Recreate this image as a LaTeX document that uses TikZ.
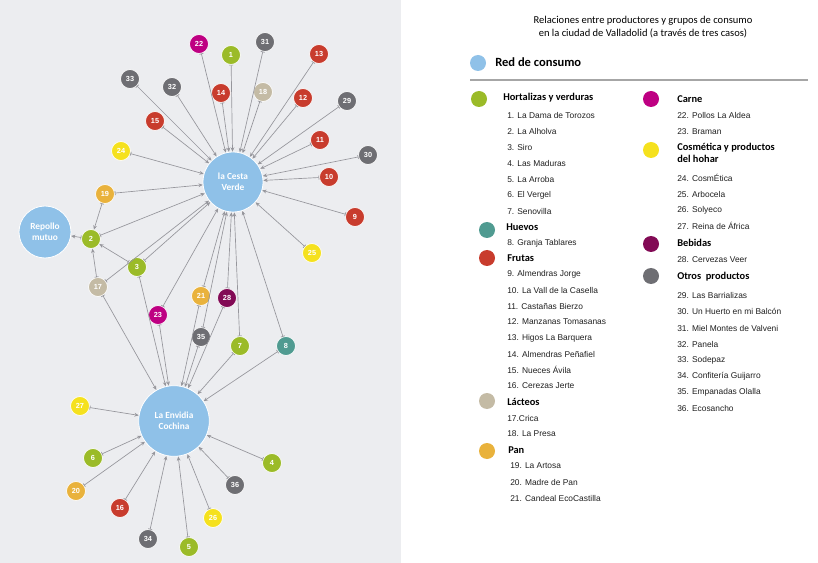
\documentclass[tikz,border=0pt]{standalone}
\usepackage{fontspec}
\setmainfont{Carlito}
\newfontfamily\listfont{Liberation Sans}
\usepackage{tikz}
\usetikzlibrary{arrows.meta}

\definecolor{panelgray}{RGB}{236,237,240}
\definecolor{linegray}{RGB}{150,150,156}
\definecolor{redblue}{RGB}{143,193,232}
\definecolor{horta}{RGB}{155,187,40}
\definecolor{huevo}{RGB}{80,155,145}
\definecolor{fruta}{RGB}{200,60,45}
\definecolor{lacteo}{RGB}{196,187,165}
\definecolor{pan}{RGB}{233,178,60}
\definecolor{carne}{RGB}{190,0,130}
\definecolor{cosme}{RGB}{245,225,30}
\definecolor{bebida}{RGB}{130,10,85}
\definecolor{otros}{RGB}{110,110,115}

\begin{document}
\begin{tikzpicture}[x=0.75pt,y=-0.75pt,
  consumo/.style={circle,fill=redblue,draw=white,line width=0.6pt,inner sep=0pt,text=white,align=center,font=\bfseries\fontsize{7}{8.5}\selectfont},
  prod/.style={circle,draw=white,line width=0.5pt,minimum size=14.2pt,inner sep=0pt,text=white,font=\listfont\bfseries\fontsize{5.5}{6}\selectfont},
  feed/.style={draw=linegray,line width=0.5pt,{Stealth[length=3.2pt,width=2.8pt]}-{Bar[width=3pt]}},
  dot/.style={circle,minimum size=12pt,inner sep=0pt},
  hdr/.style={anchor=west,inner xsep=0pt,font=\bfseries\fontsize{7.8}{8.8}\selectfont},
  itm/.style={anchor=west,inner xsep=0pt,text=black!88,font=\listfont\fontsize{6.3}{7.5}\selectfont}]
            \useasboundingbox (0,0) rectangle (818,563);
            \fill[panelgray] (0,0) rectangle (401,563);

            % grupos de consumo
            \node[consumo,minimum size=45pt] (cv) at (233,182) {la Cesta\\Verde};
            \node[consumo,minimum size=53pt] (ec) at (174,421) {La Envidia\\Cochina};
            \node[consumo,minimum size=39pt] (rm) at (45,232) {Repollo\\mutuo};

            % productores
            \node[prod,fill=horta] (p1) at (231,55) {1};
            \node[prod,fill=horta] (p2) at (91,239) {2};
            \node[prod,fill=horta] (p3) at (137,267) {3};
            \node[prod,fill=horta] (p4) at (272,463) {4};
            \node[prod,fill=horta] (p5) at (189,547) {5};
            \node[prod,fill=horta] (p6) at (93,458) {6};
            \node[prod,fill=horta] (p7) at (240,346) {7};
            \node[prod,fill=huevo] (p8) at (286,346) {8};
            \node[prod,fill=fruta] (p9) at (355,217) {9};
            \node[prod,fill=fruta] (p10) at (329,177) {10};
            \node[prod,fill=fruta] (p11) at (320,140) {11};
            \node[prod,fill=fruta] (p12) at (303,98) {12};
            \node[prod,fill=fruta] (p13) at (319,54) {13};
            \node[prod,fill=fruta] (p14) at (221,93) {14};
            \node[prod,fill=fruta] (p15) at (155,121) {15};
            \node[prod,fill=fruta] (p16) at (120,508) {16};
            \node[prod,fill=lacteo] (p17) at (98,287) {17};
            \node[prod,fill=lacteo] (p18) at (263,92) {18};
            \node[prod,fill=pan] (p19) at (105,194) {19};
            \node[prod,fill=pan] (p20) at (76,491) {20};
            \node[prod,fill=pan] (p21) at (201,296) {21};
            \node[prod,fill=carne] (p22) at (199,44) {22};
            \node[prod,fill=carne] (p23) at (158,315) {23};
            \node[prod,fill=cosme] (p24) at (121,151) {24};
            \node[prod,fill=cosme] (p25) at (312,253) {25};
            \node[prod,fill=cosme] (p26) at (213,518) {26};
            \node[prod,fill=cosme] (p27) at (80,406) {27};
            \node[prod,fill=bebida] (p28) at (227,298) {28};
            \node[prod,fill=otros] (p29) at (347,101) {29};
            \node[prod,fill=otros] (p30) at (368,155) {30};
            \node[prod,fill=otros] (p31) at (265,42) {31};
            \node[prod,fill=otros] (p32) at (172,87) {32};
            \node[prod,fill=otros] (p33) at (130,79) {33};
            \node[prod,fill=otros] (p34) at (148,539) {34};
            \node[prod,fill=otros] (p35) at (201,337) {35};
            \node[prod,fill=otros] (p36) at (235,485) {36};

            % relaciones
            \path (cv) edge[feed] (p1) edge[feed] (p2) edge[feed] (p3) edge[feed] (p7)
                       edge[feed] (p8) edge[feed] (p9) edge[feed] (p10) edge[feed] (p11)
                       edge[feed] (p12) edge[feed] (p13) edge[feed] (p14) edge[feed] (p15)
                       edge[feed] (p17) edge[feed] (p18) edge[feed] (p19) edge[feed] (p21)
                       edge[feed] (p22) edge[feed] (p23) edge[feed] (p24) edge[feed] (p25)
                       edge[feed] (p28) edge[feed] (p29) edge[feed] (p30) edge[feed] (p31)
                       edge[feed] (p32) edge[feed] (p33) edge[feed] (p35);
            \path (ec) edge[feed] (p3) edge[feed] (p4) edge[feed] (p5) edge[feed] (p6)
                       edge[feed] (p7) edge[feed] (p8) edge[feed] (p16) edge[feed] (p17)
                       edge[feed] (p20) edge[feed] (p21) edge[feed] (p23) edge[feed] (p26)
                       edge[feed] (p27) edge[feed] (p28) edge[feed] (p34) edge[feed] (p35)
                       edge[feed] (p36);
            \path (p2) edge[feed] (p3) edge[feed] (p17) edge[feed] (p19);
            \path (rm) edge[feed] (p2);

            % leyenda
            \node[font=\fontsize{7.9}{9.8}\selectfont,align=center] (tit) at (643,27) {Relaciones entre productores y grupos de consumo\\en la ciudad de Valladolid (a trav\'es de tres casos)};
            \node[dot,fill=redblue] (k0) at (478,63) {};
            \node[hdr,font=\bfseries\fontsize{9.4}{10}\selectfont] (h0) at (495,62) {Red de consumo};
            \draw[black!35,line width=0.8pt] (470,80) -- (808,80);

            \node[dot,fill=horta] (k1) at (479,99) {};
            \node[hdr] (h1) at (503,98) {Hortalizas y verduras};
            \node[itm] (l1) at (507,115) {1. La Dama de Torozos};
            \node[itm] (l2) at (507,131) {2. La Alholva};
            \node[itm] (l3) at (507,147) {3. Siro};
            \node[itm] (l4) at (507,163) {4. Las Maduras};
            \node[itm] (l5) at (507,179) {5. La Arroba};
            \node[itm] (l6) at (507,195) {6. El Vergel};
            \node[itm] (l7) at (507,211) {7. Senovilla};
            \node[dot,fill=huevo] (k2) at (487,230) {};
            \node[hdr] (h2) at (506,227) {Huevos};
            \node[itm] (l8) at (507,243) {8. Granja Tablares};
            \node[dot,fill=fruta] (k3) at (487,258) {};
            \node[hdr] (h3) at (507,258) {Frutas};
            \node[itm] (l9) at (507,274) {9. Almendras Jorge};
            \node[itm] (l10) at (507,290) {10. La Vall de la Casella};
            \node[itm] (l11) at (507,306) {11. Casta\~nas Bierzo};
            \node[itm] (l12) at (507,322) {12. Manzanas Tomasanas};
            \node[itm] (l13) at (507,338) {13. Higos La Barquera};
            \node[itm] (l14) at (507,354) {14. Almendras Pe\~nafiel};
            \node[itm] (l15) at (507,370) {15. Nueces \'Avila};
            \node[itm] (l16) at (507,386) {16. Cerezas Jerte};
            \node[dot,fill=lacteo] (k4) at (487,401) {};
            \node[hdr] (h4) at (507,402) {L\'acteos};
            \node[itm] (l17) at (507,418) {17.Crica};
            \node[itm] (l18) at (507,434) {18. La Presa};
            \node[dot,fill=pan] (k5) at (487,451) {};
            \node[hdr] (h5) at (508,450) {Pan};
            \node[itm] (l19) at (510,466) {19. La Artosa};
            \node[itm] (l20) at (510,482) {20. Madre de Pan};
            \node[itm] (l21) at (510,498) {21. Candeal EcoCastilla};

            \node[dot,fill=carne] (k6) at (651,99) {};
            \node[hdr] (h6) at (677,99) {Carne};
            \node[itm] (l22) at (677,115) {22. Pollos La Aldea};
            \node[itm] (l23) at (677,132) {23. Braman};
            \node[dot,fill=cosme] (k7) at (651,150) {};
            \node[hdr,align=left] (h7) at (677,153) {Cosm\'etica y productos\\del hohar};
            \node[itm] (l24) at (677,178) {24. Cosm\'Etica};
            \node[itm] (l25) at (677,194) {25. Arbocela};
            \node[itm] (l26) at (677,210) {26. Solyeco};
            \node[itm] (l27) at (677,226) {27. Reina de \'Africa};
            \node[dot,fill=bebida] (k8) at (651,244) {};
            \node[hdr] (h8) at (677,243) {Bebidas};
            \node[itm] (l28) at (677,260) {28. Cervezas Veer};
            \node[dot,fill=otros] (k9) at (651,276) {};
            \node[hdr] (h9) at (677,277) {Otros\ \ productos};
            \node[itm] (l29) at (677,295) {29. Las Barrializas};
            \node[itm] (l30) at (677,311) {30. Un Huerto en mi Balc\'on};
            \node[itm] (l31) at (677,328) {31. Miel Montes de Valveni};
            \node[itm] (l32) at (677,344) {32. Panela};
            \node[itm] (l33) at (677,360) {33. Sodepaz};
            \node[itm] (l34) at (677,376) {34. Confiter\'ia Guijarro};
            \node[itm] (l35) at (677,392) {35. Empanadas Olalla};
            \node[itm] (l36) at (677,408) {36. Ecosancho};
        \end{tikzpicture}
\end{document}
